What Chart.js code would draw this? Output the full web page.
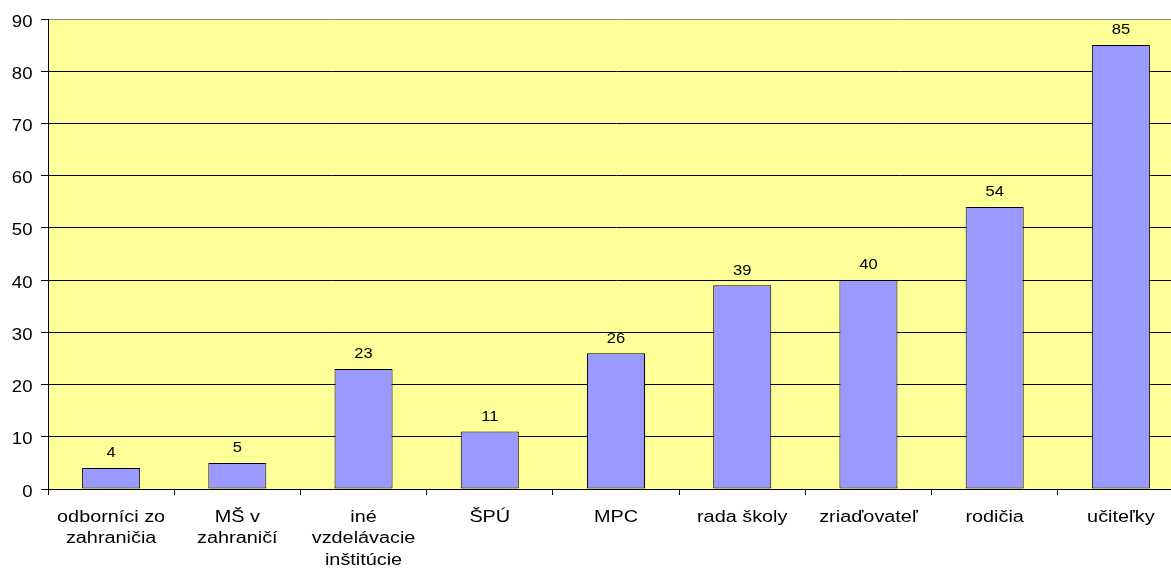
<!DOCTYPE html>
<html>
<head>
<meta charset="utf-8">
<script src="https://cdn.jsdelivr.net/npm/chart.js@4.4.0/dist/chart.umd.min.js"></script>
<style>
  body { margin: 0; overflow: hidden; background: #fff; }
  #chart { display: block; }
</style>
</head>
<body>
<canvas id="chart" width="1184" height="568"></canvas>
<script>
// categories and values
const labels = [
  ['odborníci zo', 'zahraničia'],
  ['MŠ v', 'zahraničí'],
  ['iné', 'vzdelávacie', 'inštitúcie'],
  'ŠPÚ',
  'MPC',
  'rada školy',
  'zriaďovateľ',
  'rodičia',
  'učiteľky'
];
const values = [4, 5, 23, 11, 26, 39, 40, 54, 85];
const yTicks = [0, 10, 20, 30, 40, 50, 60, 70, 80, 90];

const font = 'Liberation Sans, Arial, sans-serif';

// the source picture is a bit stretched sideways, so text is drawn wider
function wideText(ctx, text, x, y, sx) {
  ctx.save();
  ctx.translate(x, y);
  ctx.scale(sx, 1);
  ctx.fillText(text, 0, 0);
  ctx.restore();
}

// yellow plot background
const plotBg = {
  id: 'plotBg',
  beforeDraw(chart) {
    const { ctx, chartArea: a } = chart;
    ctx.save();
    ctx.fillStyle = '#FFFF99';
    ctx.fillRect(a.left, a.top, a.right - a.left, a.bottom - a.top);
    ctx.restore();
  }
};

// tick labels and value labels
const textLayer = {
  id: 'textLayer',
  afterDraw(chart) {
    const ctx = chart.ctx;
    const xs = chart.scales.x;
    const ys = chart.scales.y;
    ctx.save();
    ctx.fillStyle = '#000';
    ctx.textBaseline = 'alphabetic';

    // y axis
    ctx.font = '16px ' + font;
    ctx.textAlign = 'right';
    yTicks.forEach(v => {
      wideText(ctx, String(v), ys.left + 32.5 - 0, ys.getPixelForValue(v) + 7.6, 1.16);
    });

    // x axis
    ctx.font = '16px ' + font;
    ctx.textAlign = 'center';
    labels.forEach((lab, i) => {
      const lines = Array.isArray(lab) ? lab : [lab];
      const x = xs.getPixelForValue(i);
      lines.forEach((ln, j) => {
        wideText(ctx, ln, x, xs.top + 32.5 + j * 21.7, 1.24);
      });
    });

    // values above bars
    ctx.font = '14px ' + font;
    const meta = chart.getDatasetMeta(0);
    meta.data.forEach((bar, i) => {
      wideText(ctx, String(values[i]), bar.x, bar.y - 10.7, 1.18);
    });
    ctx.restore();
  }
};

new Chart(document.getElementById('chart'), {
  type: 'bar',
  data: {
    labels: labels,
    datasets: [{
      data: values,
      backgroundColor: '#9999FF',
      borderColor: '#000',
      borderWidth: 1,
      borderSkipped: false,
      categoryPercentage: 1,
      barPercentage: 0.46
    }]
  },
  options: {
    responsive: false,
    animation: false,
    layout: { padding: { top: 19, right: 0, left: 0, bottom: 0 } },
    plugins: {
      legend: { display: false },
      tooltip: { enabled: false }
    },
    scales: {
      x: {
        afterFit(scale) { scale.height = 79; },
        grid: {
          offset: true,
          drawOnChartArea: false,
          drawTicks: true,
          tickLength: 6,
          tickColor: '#000'
        },
        border: { color: '#000', width: 1 },
        ticks: { display: false, autoSkip: false }
      },
      y: {
        min: 0,
        max: 90,
        afterFit(scale) { scale.width = 48; },
        afterBuildTicks(scale) { scale.ticks = yTicks.map(v => ({ value: v })); },
        grid: {
          color: ctx => (ctx.tick && ctx.tick.value === 90 ? '#888' : '#000'),
          tickColor: '#000',
          tickLength: 7,
          lineWidth: 1
        },
        border: { color: '#000', width: 1 },
        ticks: { display: false }
      }
    }
  },
  plugins: [plotBg, textLayer]
});
</script>
</body>
</html>
